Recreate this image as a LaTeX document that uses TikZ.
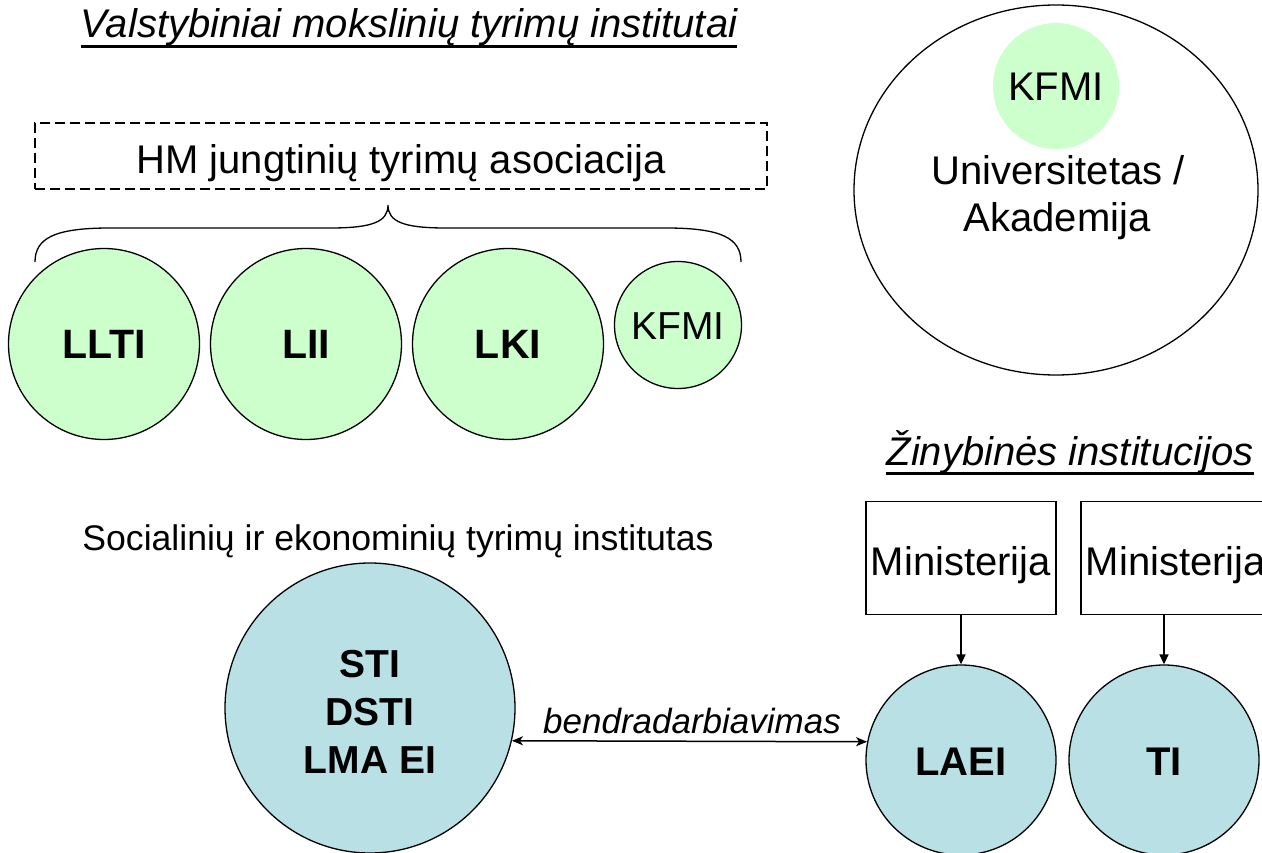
\documentclass[tikz,border=0pt]{standalone}
\usepackage{fontspec}
\setmainfont{Liberation Sans}
\usetikzlibrary{arrows.meta,shapes.geometric}
\definecolor{lgreen}{RGB}{204,255,204}
\definecolor{lteal}{RGB}{185,224,228}
\tikzset{
  fs/.style={font=\fontsize{#1}{#1}\selectfont},
  txt/.style={inner sep=0pt, anchor=base},
  uline/.style={line width=2.6pt},
  green circ/.style={circle, draw=black, line width=1.3pt, fill=lgreen, minimum size=#1, inner sep=0pt},
  teal circ/.style={circle, draw=black, line width=1.3pt, fill=lteal, minimum size=#1, inner sep=0pt},
  minbox/.style={draw=black, line width=1.3pt, fill=white, minimum width=190pt, minimum height=113pt, inner sep=0pt},
  arr/.style={line width=1.5pt, -{Triangle[length=10pt,width=9pt]}},
  darr/.style={line width=1.5pt, {Stealth[length=11pt,width=9pt,inset=3pt]}-{Stealth[length=11pt,width=9pt,inset=3pt]}},
}
\begin{document}
\begin{tikzpicture}[x=1pt,y=-1pt]
\useasboundingbox (0,0) rectangle (1262,853);
% Title
\node[txt, fs=40] (title) at (409,38) {\itshape Valstybiniai mokslinių tyrimų institutai};
\draw[uline] ([yshift=-8.5pt]title.base west) -- ([yshift=-8.5pt]title.base east);
% dashed association box
\node[draw=black, line width=1.8pt, dash pattern=on 10pt off 5pt, minimum width=732pt, minimum height=66pt, inner sep=0pt] (hmbox) at (401,156) {};
\node[txt, fs=40] (hm) at (401,174) {HM jungtinių tyrimų asociacija};
% brace
\draw[line width=1.3pt] (35,262) .. controls (35,238) and (55,228) .. (110,228) -- (330,228)
  .. controls (372,228) and (388,222) .. (388,205)
  .. controls (388,222) and (404,228) .. (446,228) -- (666,228)
  .. controls (721,228) and (741,238) .. (741,262);
% green circles
\node[green circ=191pt] (llti) at (104,344) {};
\node[txt, fs=41] at (104,359) {\bfseries LLTI};
\node[green circ=191pt] (lii) at (306,344) {};
\node[txt, fs=41] at (306,359) {\bfseries LII};
\node[green circ=191pt] (lki) at (508,344) {};
\node[txt, fs=41] at (508,359) {\bfseries LKI};
\node[green circ=127pt] (kfmi1) at (678,325) {};
\node[txt, fs=39] at (678,340) {KFMI};
% university
\node[ellipse, draw=black, line width=1.3pt, minimum width=404pt, minimum height=370pt, inner sep=0pt] (uni) at (1056,190) {};
\node[circle, fill=lgreen, minimum size=126pt, inner sep=0pt] (kfmi2) at (1056,86) {};
\node[txt, fs=40] at (1056,101) {KFMI};
\node[txt, fs=40] at (1058,185) {Universitetas /};
\node[txt, fs=40] at (1057,232) {Akademija};
% Zinybines
\node[txt, fs=40] (zin) at (1070,465) {\itshape Žinybinės institucijos};
\draw[uline] ([yshift=-8.5pt]zin.base west) -- ([yshift=-8.5pt]zin.base east);
% Socialiniu
\node[txt, fs=35.6] (soc) at (398,550) {Socialinių ir ekonominių tyrimų institutas};
% STI circle
\node[teal circ=290pt] (sti) at (370,708) {};
\node[txt, fs=39, align=center] at (370,773) {\bfseries STI\\[9pt]\bfseries DSTI\\[9pt]\bfseries LMA EI};
% ministries
\node[minbox] (min1) at (961,558) {};
\node[txt, fs=40] at (961,575) {Ministerija};
\node[minbox] (min2) at (1176,558) {};
\node[txt, fs=40] at (1176,575) {Ministerija};
% LAEI, TI
\node[teal circ=190pt] (laei) at (961,760) {};
\node[txt, fs=40] at (961,775) {\bfseries LAEI};
\node[teal circ=190pt] (ti) at (1164,760) {};
\node[txt, fs=40] at (1164,775) {\bfseries TI};
\draw[arr] (min1.south) -- (laei.north);
\draw[arr] (min2.south -| ti.north) -- (ti.north);
% cooperation
\draw[darr] (sti.-13) -- (laei.169);
\node[txt, fs=35] (bend) at (692,733) {\itshape bendradarbiavimas};
\end{tikzpicture}
\end{document}
